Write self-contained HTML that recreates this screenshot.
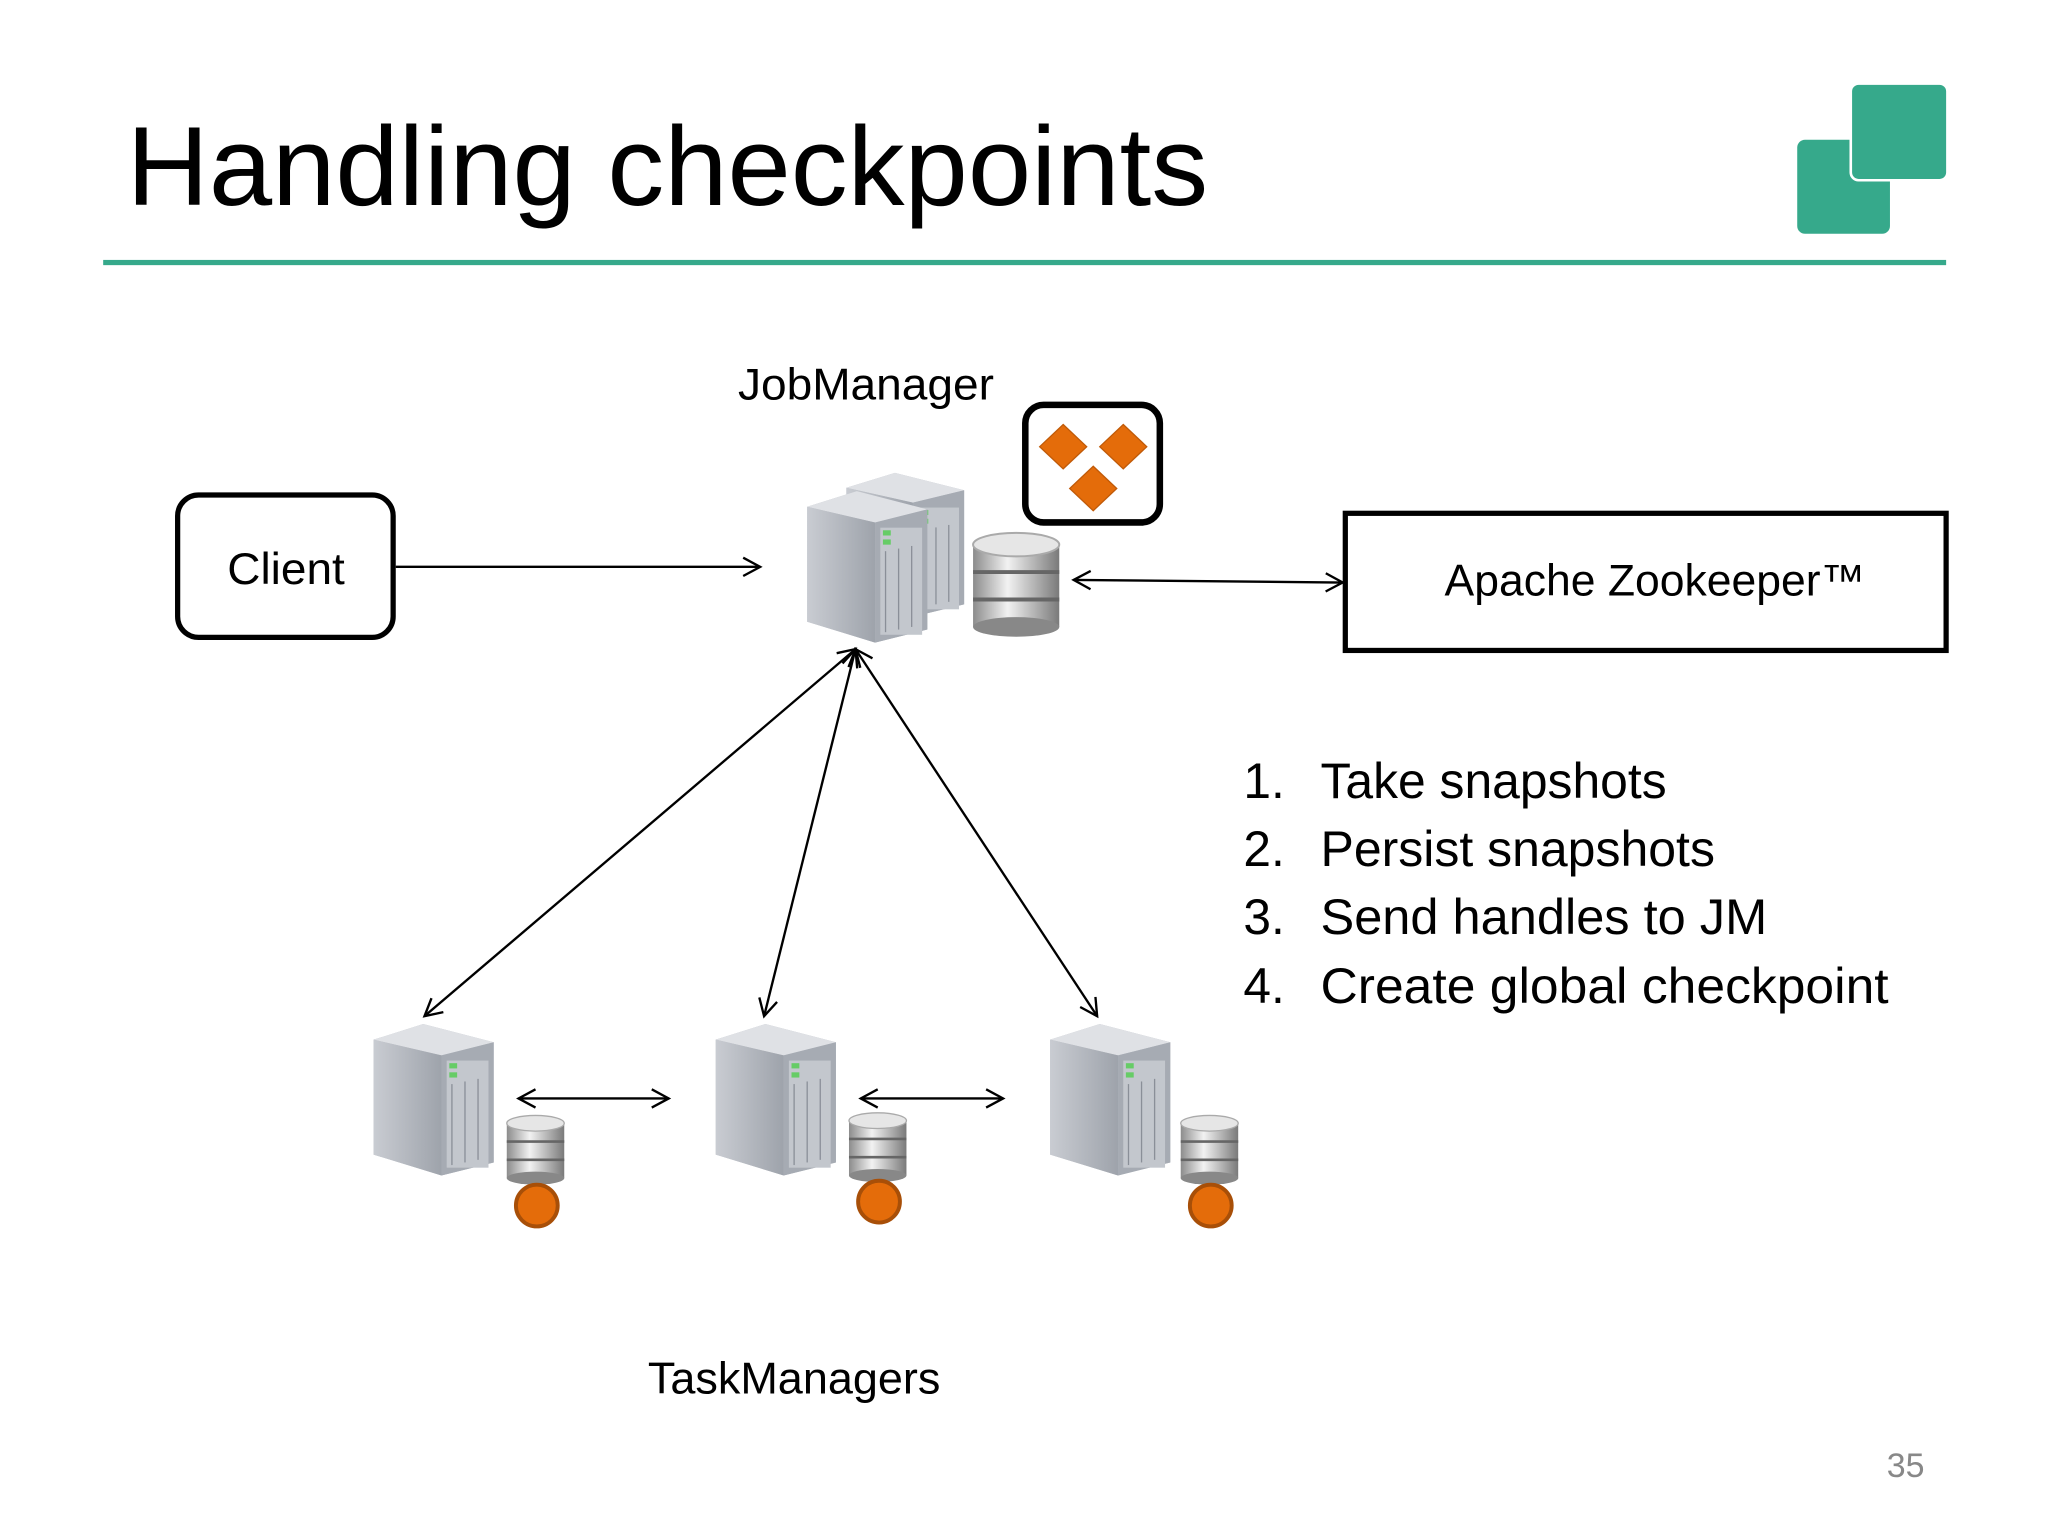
<!DOCTYPE html>
<html><head><meta charset="utf-8"><style>
html,body{margin:0;padding:0;background:#fff;}
svg{display:block;}
text{font-family:"Liberation Sans",sans-serif;}
</style></head><body>
<svg width="2048" height="1536" viewBox="0 0 1568 1176" xmlns="http://www.w3.org/2000/svg">
<defs>
<linearGradient id="sv" x1="0" x2="1"><stop offset="0" stop-color="#c9ccd2"/><stop offset="1" stop-color="#9ea3ab"/></linearGradient>
<linearGradient id="db" x1="0" x2="1"><stop offset="0" stop-color="#8c8c8c"/><stop offset="0.4" stop-color="#f2f2f2"/><stop offset="1" stop-color="#7a7a7a"/></linearGradient>
<g id="srv">
<polygon points="0,12 38,0 92,14 92,106 52,116 0,100" fill="#b9bdc4"/>
<polygon points="0,12 38,0 92,14 52,24" fill="#dfe1e5"/>
<polygon points="0,12 52,24 52,116 0,100" fill="url(#sv)"/>
<polygon points="52,24 92,14 92,106 52,116" fill="#a6abb3"/>
<rect x="56" y="28" width="32" height="82" fill="#c3c7cd"/>
<rect x="58" y="30" width="6" height="4" fill="#6c6"/>
<rect x="58" y="37" width="6" height="4" fill="#6c6"/>
<g stroke="#8a8f98" stroke-width="1">
<line x1="60" y1="46" x2="60" y2="108"/><line x1="70" y1="44" x2="70" y2="106"/><line x1="80" y1="42" x2="80" y2="104"/>
</g>
</g>
<g id="dbs">
<rect x="0" y="8" width="44" height="42" fill="url(#db)"/>
<ellipse cx="22" cy="50" rx="22" ry="5" fill="#888"/>
<ellipse cx="22" cy="8" rx="22" ry="6" fill="#e6e6e6" stroke="#aaa"/>
<line x1="0" y1="22" x2="44" y2="22" stroke="#666" stroke-width="2"/>
<line x1="0" y1="36" x2="44" y2="36" stroke="#666" stroke-width="2"/>
</g>
<marker id="ah" markerWidth="20" markerHeight="20" refX="14" refY="8" orient="auto-start-reverse" markerUnits="userSpaceOnUse">
<path d="M1,1 L14,8 L1,15" fill="none" stroke="#000" stroke-width="1.8"/>
</marker>
</defs>

<text x="97" y="157" font-size="86" textLength="828" lengthAdjust="spacingAndGlyphs">Handling checkpoints</text>
<rect x="79" y="199" width="1411" height="4" fill="#36a98b"/>
<rect x="1376" y="107" width="71" height="72" rx="6" fill="#36a98b"/>
<rect x="1417" y="64" width="74" height="74" rx="6" fill="#36a98b" stroke="#fff" stroke-width="2"/>

<rect x="136" y="379" width="165" height="109" rx="16" fill="none" stroke="#000" stroke-width="4"/>
<text x="219" y="447" font-size="34" text-anchor="middle" textLength="90" lengthAdjust="spacingAndGlyphs">Client</text>
<rect x="1030" y="393" width="460" height="105" fill="none" stroke="#000" stroke-width="4"/>
<text x="1267" y="456" font-size="34" text-anchor="middle" textLength="322" lengthAdjust="spacingAndGlyphs">Apache Zookeeper™</text>
<text x="663" y="306" font-size="34" text-anchor="middle" textLength="196" lengthAdjust="spacingAndGlyphs">JobManager</text>

<rect x="785" y="310" width="103" height="90" rx="14" fill="none" stroke="#000" stroke-width="5"/>
<g fill="#e46c0a" stroke="#c05a08" stroke-width="1">
<polygon points="814,325 832,342 814,359 796,342"/>
<polygon points="860,325 878,342 860,359 842,342"/>
<polygon points="837,357 855,374 837,391 819,374"/>
</g>

<use href="#srv" x="648" y="362" transform="translate(648 362) scale(0.98 0.95) translate(-648 -362)"/>
<use href="#srv" x="618" y="376"/>
<use href="#dbs" transform="translate(745 405) scale(1.5 1.5)"/>

<g stroke="#000" stroke-width="1.8" fill="none">
<line x1="303" y1="434" x2="582" y2="434" marker-end="url(#ah)"/>
<line x1="822" y1="444" x2="1028" y2="446" marker-start="url(#ah)" marker-end="url(#ah)"/>
<line x1="655" y1="497" x2="325" y2="778" marker-start="url(#ah)" marker-end="url(#ah)"/>
<line x1="655" y1="497" x2="585" y2="778" marker-start="url(#ah)" marker-end="url(#ah)"/>
<line x1="655" y1="497" x2="840" y2="778" marker-start="url(#ah)" marker-end="url(#ah)"/>
<line x1="397" y1="841" x2="512" y2="841" marker-start="url(#ah)" marker-end="url(#ah)"/>
<line x1="659" y1="841" x2="768" y2="841" marker-start="url(#ah)" marker-end="url(#ah)"/>
</g>

<use href="#srv" x="286" y="784"/>
<use href="#srv" x="548" y="784"/>
<use href="#srv" x="804" y="784"/>
<use href="#dbs" x="388" y="852"/>
<use href="#dbs" x="650" y="850"/>
<use href="#dbs" x="904" y="852"/>
<g fill="#e46c0a" stroke="#a84f08" stroke-width="3">
<circle cx="411" cy="923" r="16"/>
<circle cx="673" cy="920" r="16"/>
<circle cx="927" cy="923" r="16"/>
</g>

<text x="608" y="1067" font-size="34" text-anchor="middle" textLength="224" lengthAdjust="spacingAndGlyphs">TaskManagers</text>

<g font-size="38">
<text x="952" y="611">1.</text><text x="1011" y="611" textLength="265" lengthAdjust="spacingAndGlyphs">Take snapshots</text>
<text x="952" y="663">2.</text><text x="1011" y="663" textLength="302" lengthAdjust="spacingAndGlyphs">Persist snapshots</text>
<text x="952" y="715">3.</text><text x="1011" y="715" textLength="342" lengthAdjust="spacingAndGlyphs">Send handles to JM</text>
<text x="952" y="768">4.</text><text x="1011" y="768" textLength="435" lengthAdjust="spacingAndGlyphs">Create global checkpoint</text>
</g>
<text x="1459" y="1131" font-size="26" fill="#888" text-anchor="middle">35</text>
</svg>
</body></html>
